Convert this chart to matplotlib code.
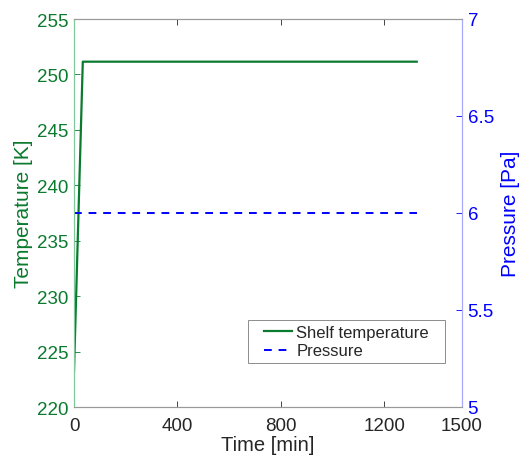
import numpy as np
import matplotlib.pyplot as plt
from matplotlib.patches import Rectangle

plt.rcParams['font.family'] = ['Liberation Sans', 'DejaVu Sans']

# data
time_min = [0, 34, 1325]
shelf_temp = [223.2, 251.15, 251.15]
press_time = [0, 1325]
pressure = [6.0, 6.0]

xticks = [0, 400, 800, 1200, 1500]
tticks = [220, 225, 230, 235, 240, 245, 250, 255]
pticks = [5, 5.5, 6, 6.5, 7]

GREEN = '#0a7a2e'
BLUE = '#0000ff'

fig = plt.figure(figsize=(5.21, 4.64), dpi=100)
ax = fig.add_axes([74/521, 1-408/464, 388/521, 388/464])
ax2 = ax.twinx()

l1, = ax.plot(time_min, shelf_temp, color=GREEN, lw=1.6, label='Shelf temperature')
l2, = ax2.plot(press_time, pressure, color=BLUE, lw=1.4, ls=(0, (4, 3.5)), label='Pressure')

ax.set_xlim(0, 1500)
ax.set_ylim(220, 255)
ax2.set_ylim(5, 7)
ax.set_xticks(xticks)
ax.set_yticks(tticks)
ax2.set_yticks(pticks)
ax2.set_yticklabels(['5', '5.5', '6', '6.5', '7'])

ax.tick_params(axis='x', direction='in', top=True, colors='#262626', labelsize=13.5, length=4, width=0.6, pad=7)
ax.tick_params(axis='y', direction='in', colors=GREEN, labelsize=13.5, length=4, width=0.6, pad=4)
ax2.tick_params(axis='y', direction='in', colors=BLUE, labelsize=13.5, length=4, width=0.6, pad=4)

for a in (ax, ax2):
    a.spines['top'].set_color('#999999')
    a.spines['bottom'].set_color('#999999')
    a.spines['left'].set_color('#7fc89a')
    a.spines['right'].set_color('#a8a8ff')
    for s in a.spines.values():
        s.set_linewidth(0.8)

ax.set_xlabel('Time [min]', fontsize=14.5, color='#262626', labelpad=1)
ax.set_ylabel('Temperature [K]', fontsize=15, color=GREEN, labelpad=3)
ax2.set_ylabel('Pressure [Pa]', fontsize=15, color=BLUE, labelpad=5)

# legend box drawn separately (wider side insets than matplotlib's borderpad gives)
ax2.add_patch(Rectangle((248/521, 1-364/464), 197/521, 43/464, transform=fig.transFigure,
                        facecolor='white', edgecolor='#8c8c8c', lw=0.7, zorder=4, clip_on=False))
leg = ax2.legend(handles=[l1, l2], loc='upper left', bbox_to_anchor=(264/521, 1-326/464),
                 bbox_transform=fig.transFigure, fontsize=12, frameon=False,
                 handlelength=1.7, handletextpad=0.25,
                 borderpad=0, labelspacing=0.2, borderaxespad=0)
leg.set_zorder(6)
for t in leg.get_texts():
    t.set_color('#262626')

fig.savefig('out.png', dpi=100)
